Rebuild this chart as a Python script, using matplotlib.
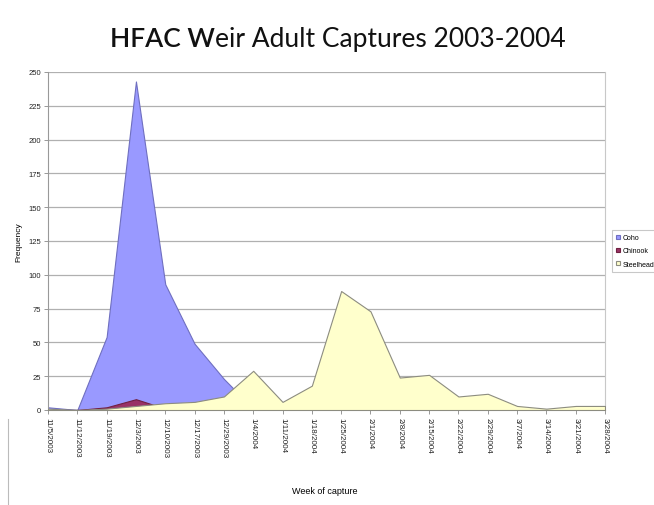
import matplotlib.pyplot as plt
import numpy as np

plt.rcParams['font.family'] = ['Liberation Sans', 'DejaVu Sans']

# weeks of capture
weeks = ['11/5/2003', '11/12/2003', '11/19/2003', '12/3/2003', '12/10/2003',
         '12/17/2003', '12/29/2003', '1/4/2004', '1/11/2004', '1/18/2004',
         '1/25/2004', '2/1/2004', '2/8/2004', '2/15/2004', '2/22/2004',
         '2/29/2004', '3/7/2004', '3/14/2004', '3/21/2004', '3/28/2004']

coho = [2, 0, 54, 243, 93, 49, 23, 1, 0, 0, 0, 0, 0, 0, 0, 0, 0, 0, 0, 0]
chinook = [0, 0, 2, 8, 1, 0, 0, 0, 0, 0, 0, 0, 0, 0, 0, 0, 0, 0, 0, 0]
steelhead = [1, 0, 1, 3, 5, 6, 10, 29, 6, 18, 88, 73, 24, 26, 10, 12, 3, 1, 3, 3]

yticks = [0, 25, 50, 75, 100, 125, 150, 175, 200, 225, 250]

fig = plt.figure(figsize=(6.54, 5.06), dpi=100)
ax = fig.add_axes([48/654, 1-411/506, 557/654, 338/506])

x = np.arange(len(weeks))
ax.fill_between(x, coho, color='#9999ff', edgecolor='#6f6fc0', lw=0.8, zorder=2, label='Coho')
ax.fill_between(x, chinook, color='#993366', edgecolor='#702040', lw=0.8, zorder=3, label='Chinook')
ax.fill_between(x, steelhead, color='#ffffcc', edgecolor='#8c8c80', lw=0.8, zorder=4, label='Steelhead')

ax.set_xlim(0, len(weeks) - 1)
ax.set_ylim(0, 250)
ax.set_yticks(yticks)
ax.set_yticklabels([str(v) for v in yticks], fontsize=5.5, color='#222222')
ax.set_xticks(x)
ax.set_xticklabels(weeks, rotation=-90, fontsize=5.8, color='#222222')
ax.tick_params(axis='both', length=3, width=0.6, color='#888888', pad=2)
ax.yaxis.grid(True, color='#b0b0b0', lw=0.9, zorder=1)
ax.set_axisbelow(True)
ax.spines['top'].set_visible(False)
ax.spines['right'].set_color('#c8c8c8')
ax.spines['left'].set_color('#999999')
ax.spines['bottom'].set_color('#999999')
ax.spines['left'].set_linewidth(0.8)
ax.spines['right'].set_linewidth(0.8)

ax.set_ylabel('Frequency', fontsize=6, labelpad=4)
fig.text(325/654, 1-492/506, 'Week of capture', fontsize=6.5, ha='center', va='center')

leg = fig.legend(loc='upper left', bbox_to_anchor=(612/654, 1-231/506), fontsize=5,
                 handlelength=0.6, handleheight=0.6, borderpad=0.6, labelspacing=0.9,
                 handletextpad=0.4, borderaxespad=0, frameon=True, fancybox=False,
                 edgecolor='#bbbbbb')
leg.get_frame().set_linewidth(0.8)

# title with bold pieces
t1 = fig.text(110/654, 1-52/506, 'HFAC W', fontsize=19, fontweight='semibold',
              family=['Lato', 'DejaVu Sans'], ha='left', va='bottom', color='#111111')
fig.add_artist(plt.Annotation('eir Adult Captures 2003-2004', xy=(1, 0), xycoords=t1,
                              va='bottom', ha='left', fontsize=19,
                              family=['Lato', 'DejaVu Sans'], color='#111111'))

fig.add_artist(plt.Line2D([8/654, 8/654], [0, 1-420/506], color='#bbbbbb', lw=0.8))

fig.savefig('out.png', dpi=100)
